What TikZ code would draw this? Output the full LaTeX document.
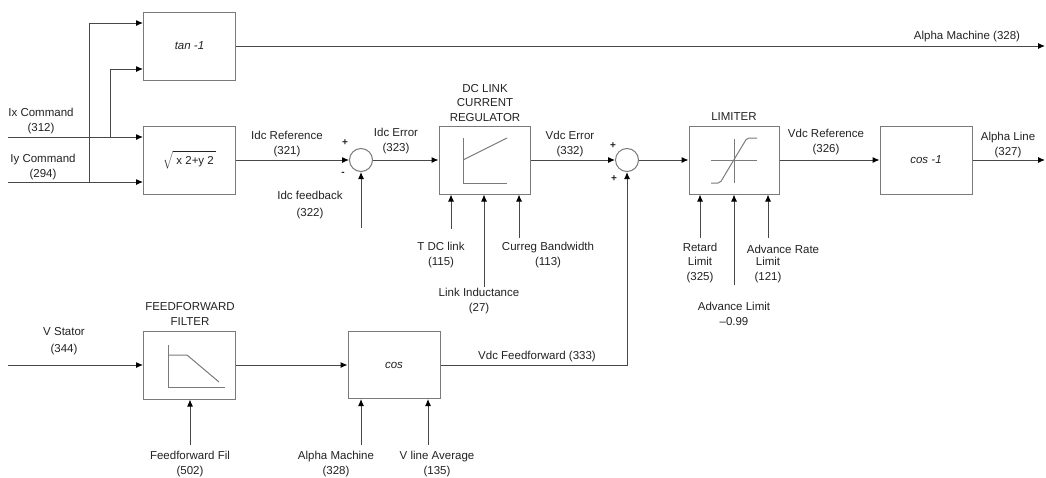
\documentclass[tikz,border=0pt]{standalone}
\usepackage{fontspec}
\setmainfont{Liberation Sans}
\usetikzlibrary{arrows.meta}
\definecolor{linec}{HTML}{484848}
\definecolor{boxc}{HTML}{7A7A7A}
\definecolor{txtc}{HTML}{222222}
\begin{document}
\begin{tikzpicture}[x=1pt,y=-1pt,
  every node/.style={font=\fontsize{11.5}{14.5}\selectfont, inner sep=0pt, text=txtc},
  blk/.style={draw=boxc, line width=1pt, minimum width=92pt, minimum height=68pt},
  sumj/.style={circle, draw=boxc, line width=1pt, minimum size=23pt},
  wire/.style={draw=linec, line width=1pt},
  arr/.style={wire, -{Latex[length=7pt,width=6pt,color=black]}},
  icon/.style={draw=boxc, line width=1pt},
  lbl/.style={align=center},
  sgn/.style={font=\fontsize{10}{10}\selectfont\bfseries},
]
\useasboundingbox (0,0) rectangle (1046,477);

% blocks
\node[blk] (tan) at (189.5,46) {\itshape tan -1};
\node[blk] (sqrt) at (189.5,160) {$\sqrt{\rule[-3pt]{0pt}{14pt}\mbox{\fontsize{11.5}{13}\selectfont\ x 2+y 2\,}}$};
\node[blk, minimum width=91pt] (reg) at (484.5,160) {};
\node[sumj] (s1) at (361,160) {};
\node[sumj] (s2) at (627,160) {};
\node[blk, minimum width=90pt] (lim) at (734,160) {};
\node[blk] (acos) at (926,160) {\itshape cos -1};
\node[blk] (filt) at (189.5,365) {};
\node[blk, minimum height=67pt] (cosb) at (394,365) {\itshape cos};

% icons
\draw[icon] (463,138) -- (463,183) -- (507,183);
\draw[icon] (463,160) -- (507,138);
\draw[icon] (734,139) -- (734,183);
\draw[icon] (711,160) -- (757,160);
\draw[icon, rounded corners=2pt] (711,183) -- (720,183) -- (747,138) -- (757,138);
\draw[icon] (168,345) -- (168,387) -- (225,387);
\draw[icon] (168,355) -- (187,355) -- (219,382);

% coordinates
\coordinate (ix) at (8,137);
\coordinate (iy) at (8,182);
\coordinate (ja) at (89,182);
\coordinate (jb) at (110,137);
\coordinate (ta) at (143,23);
\coordinate (tb) at (143,69);
\coordinate (amend) at (1045,46);
\coordinate (alend) at (1045,160);
\coordinate (fb) at (361,228);
\coordinate (tdc) at (451,229);
\coordinate (lind) at (484,287);
\coordinate (cbw) at (519,238);
\coordinate (rl) at (700,238);
\coordinate (al) at (734,285);
\coordinate (arl) at (768,238);
\coordinate (vs) at (8,365);
\coordinate (ffi) at (190,445);
\coordinate (amc) at (361,445);
\coordinate (vla) at (428,445);

% connectors
\draw[arr] (ix) -- (sqrt.west |- ix);
\draw[arr] (iy) -- (sqrt.west |- iy);
\draw[arr] (ja) |- (ta);
\draw[arr] (jb) |- (tb);
\draw[arr] (tan.east) -- (amend);
\draw[arr] (sqrt.east) -- (s1.west);
\draw[arr] (fb) -- (s1.south);
\draw[arr] (s1.east) -- (reg.west);
\draw[arr] (reg.east) -- (s2.west);
\draw[arr] (s2.east) -- (lim.west);
\draw[arr] (lim.east) -- (acos.west);
\draw[arr] (acos.east) -- (alend);
\draw[arr] (tdc) -- (tdc |- reg.south);
\draw[arr] (lind) -- (lind |- reg.south);
\draw[arr] (cbw) -- (cbw |- reg.south);
\draw[arr] (rl) -- (rl |- lim.south);
\draw[arr] (al) -- (al |- lim.south);
\draw[arr] (arl) -- (arl |- lim.south);
\draw[arr] (vs) -- (filt.west);
\draw[arr] (filt.east) -- (cosb.west);
\draw[arr] (ffi) -- (ffi |- filt.south);
\draw[arr] (amc) -- (amc |- cosb.south);
\draw[arr] (vla) -- (vla |- cosb.south);
\draw[arr] (cosb.east) -| (s2.south);

% labels
\node[lbl] (lix) at (41,121) {Ix Command\\(312)};
\node[lbl] (liy) at (43,167) {Iy Command\\(294)};
\node (lam) at (967,37) {Alpha Machine (328)};
\node[lbl] (lidr) at (287,144) {Idc Reference\\(321)};
\node[sgn] (p1) at (345,143) {+};
\node[sgn] (m1) at (343,174) {-};
\node[lbl] (lifb) at (310,205) {Idc feedback\\[2pt](322)};
\node[lbl] (lie) at (396,141) {Idc Error\\(323)};
\node[lbl] (lreg) at (485,103) {DC LINK\\CURRENT\\REGULATOR};
\node[lbl] (lve) at (570,144) {Vdc Error\\(332)};
\node[sgn] (p2) at (613,146) {+};
\node[sgn] (p3) at (614,179) {+};
\node (llim) at (734,117) {LIMITER};
\node[lbl] (lvr) at (826,142) {Vdc Reference\\(326)};
\node[lbl] (lal) at (1008,145) {Alpha Line\\(327)};
\node[lbl] (ltdc) at (441,255) {T DC link\\(115)};
\node[lbl] (lcbw) at (548,255) {Curreg Bandwidth\\(113)};
\node[lbl] (llind) at (479,301) {Link Inductance\\(27)};
\node[lbl] (lrl) at (700,263) {Retard\\Limit\\(325)};
\node (larl1) at (783,249) {Advance Rate};
\node[lbl] (larl2) at (768,270) {Limit\\(121)};
\node[lbl] (lal2) at (734,314) {Advance Limit\\--0.99};
\node[lbl] (lff) at (190,314) {FEEDFORWARD\\FILTER};
\node[lbl] (lvs) at (64,341) {V Stator\\[2pt](344)};
\node[lbl] (lffi) at (190,464) {Feedforward Fil\\(502)};
\node[lbl] (lamc) at (336,464) {Alpha Machine\\(328)};
\node[lbl] (lvla) at (437,464) {V line Average\\(135)};
\node (lvf) at (537,357) {Vdc Feedforward (333)};
\end{tikzpicture}
\end{document}
